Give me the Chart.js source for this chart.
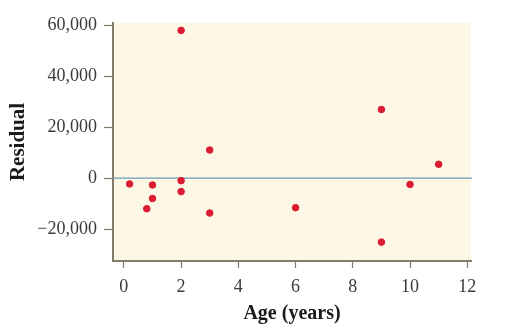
<!DOCTYPE html>
<html>
<head>
<meta charset="utf-8">
<script src="https://cdn.jsdelivr.net/npm/chart.js@4/dist/chart.umd.min.js"></script>
<style>
html,body{margin:0;padding:0;background:#fff;}
canvas{display:block;}
</style>
</head>
<body>
<canvas id="c" width="510" height="335"></canvas>
<script>
const ages      = [0.2, 1, 1, 0.8, 2, 2, 2, 3, 3, 6, 9, 9, 10, 11];
const residuals = [-2300, -2700, -8000, -12000, -1000, -5300, 57900, 11000, -13700, -11600, -25100, 26900, -2500, 5400];
const xTicks = [0, 2, 4, 6, 8, 10, 12];
const yTicks = [-20000, 0, 20000, 40000, 60000];

const serif = '"Liberation Serif", "Times New Roman", serif';
const axisColor = '#847a6c';

const bgPlugin = {
  id: 'bg',
  beforeDraw(chart) {
    const {ctx, chartArea: a} = chart;
    ctx.save();
    ctx.fillStyle = '#fdf7e6';
    ctx.fillRect(a.left, a.top, a.right - a.left, a.bottom - a.top);
    ctx.restore();
  },
  beforeDatasetsDraw(chart) {
    const {ctx, chartArea: a, scales} = chart;
    const y0 = scales.y.getPixelForValue(0);
    ctx.save();
    ctx.strokeStyle = '#6b9db2';
    ctx.lineWidth = 1.2;
    ctx.beginPath();
    ctx.moveTo(a.left, y0);
    ctx.lineTo(a.right + 1, y0);
    ctx.stroke();
    ctx.restore();
  }
};

new Chart(document.getElementById('c'), {
  type: 'scatter',
  data: {
    datasets: [{
      data: ages.map((x, i) => ({x, y: residuals[i]})),
      backgroundColor: '#dc1c33',
      borderColor: '#dc1c33',
      pointRadius: 3.3,
      pointHoverRadius: 3.3
    }]
  },
  options: {
    responsive: false,
    animation: false,
    layout: {padding: {left: 0, right: 39, top: 23, bottom: 0}},
    plugins: {legend: {display: false}, tooltip: {enabled: false}},
    scales: {
      x: {
        type: 'linear',
        min: -0.38,
        max: 12.13,
        afterBuildTicks(s) { s.ticks = xTicks.map(v => ({value: v})); },
        afterFit(s) { s.height = 74; },
        grid: {drawOnChartArea: false, drawTicks: true, tickLength: 7, color: axisColor, tickWidth: 1.2},
        border: {display: true, color: axisColor, width: 2},
        ticks: {color: '#3a3a3a', font: {family: serif, size: 18}, padding: 8, maxRotation: 0},
        title: {display: true, text: 'Age (years)', color: '#1a1a1a', font: {family: serif, size: 20, weight: 'bold'}, padding: {top: 0, bottom: 9}}
      },
      y: {
        type: 'linear',
        min: -32500,
        max: 60800,
        afterBuildTicks(s) { s.ticks = yTicks.map(v => ({value: v})); },
        afterFit(s) { s.width = 113; },
        grid: {drawOnChartArea: false, drawTicks: true, tickLength: 9, color: axisColor, tickWidth: 1.2},
        border: {display: true, color: axisColor, width: 2},
        ticks: {
          color: '#3a3a3a', font: {family: serif, size: 18}, padding: 7,
          callback: v => (v < 0 ? '\u2212' : '') + Math.abs(v).toLocaleString('en-US')
        },
        title: {display: true, text: 'Residual', color: '#1a1a1a', font: {family: serif, size: 21, weight: 'bold'}, padding: {top: 6, bottom: 0}}
      }
    }
  },
  plugins: [bgPlugin]
});
</script>
</body>
</html>
